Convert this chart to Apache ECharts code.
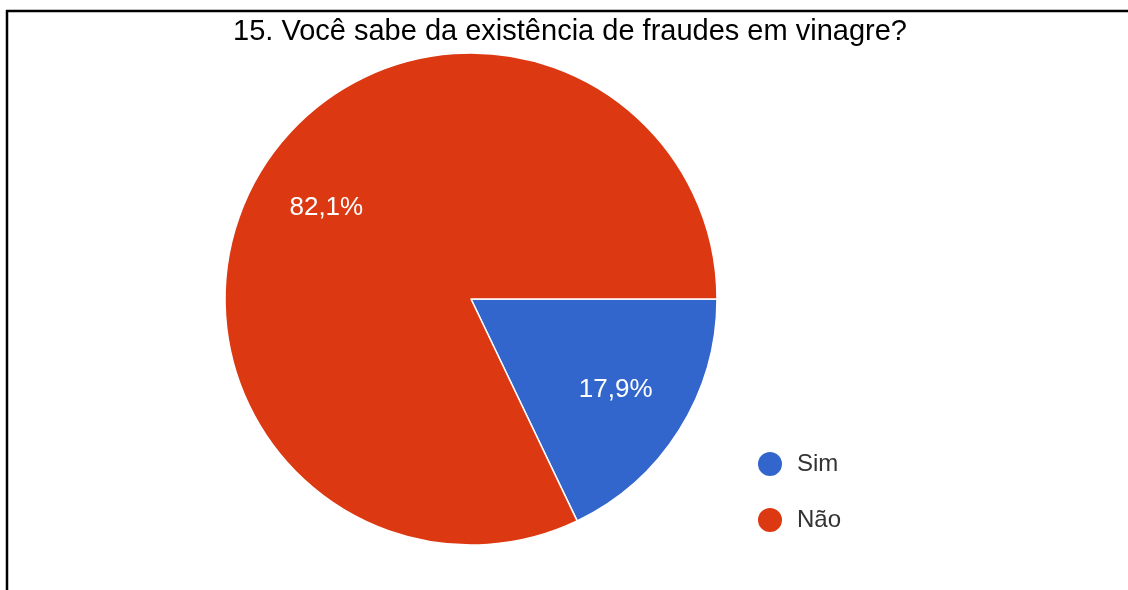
<!DOCTYPE html>
<html>
<head>
<meta charset="utf-8">
<title>15. Você sabe da existência de fraudes em vinagre?</title>
<script src="https://cdn.jsdelivr.net/npm/echarts@6/dist/echarts.min.js"></script>
<style>
  html, body { margin: 0; padding: 0; background: #fff; }
  #chart { width: 1128px; height: 590px; }
</style>
</head>
<body>
<div id="chart"></div>
<script>
// Survey answers and their shares (%)
const titleText = '15. Você sabe da existência de fraudes em vinagre?';
const answers = ['Sim', 'Não'];
const shares = [17.9, 82.1];
const colors = ['#3366cc', '#dc3912'];

const pieData = answers.map((name, i) => ({ name, value: shares[i] }));
const fmtPct = p => p.value.toFixed(1).replace('.', ',') + '%';

const chart = echarts.init(document.getElementById('chart'), null, { renderer: 'canvas' });

chart.setOption({
  backgroundColor: '#ffffff',
  animation: false,
  color: colors,
  title: {
    text: titleText,
    left: 565,
    textAlign: 'center',
    top: 12,
    textStyle: {
      fontFamily: 'Liberation Sans, Arial, sans-serif',
      fontSize: 29,
      fontWeight: 'normal',
      color: '#000'
    }
  },
  legend: {
    orient: 'vertical',
    left: 751,
    top: 445,
    icon: 'circle',
    itemWidth: 26,
    itemHeight: 26,
    itemGap: 28,
    data: answers,
    textStyle: {
      fontFamily: 'Liberation Sans, Arial, sans-serif',
      fontSize: 24,
      color: '#333',
      padding: [0, 0, 0, 9]
    }
  },
  graphic: [
    // frame: top and left rules
    { type: 'line', shape: { x1: 6, y1: 11, x2: 1128, y2: 11 }, style: { stroke: '#000', lineWidth: 2.5 } },
    { type: 'line', shape: { x1: 7, y1: 10, x2: 7, y2: 590 }, style: { stroke: '#000', lineWidth: 2.5 } }
  ],
  series: [
    {
      name: 'respostas',
      type: 'pie',
      center: [471, 299],
      radius: 246,
      startAngle: 0,
      clockwise: true,
      silent: true,
      label: { show: false },
      labelLine: { show: false },
      itemStyle: { borderColor: '#ffffff', borderWidth: 1.5 },
      data: pieData
    },
    {
      // percentage labels placed at about two thirds of the radius
      name: 'rótulos',
      type: 'pie',
      center: [471, 299],
      radius: [128, 208],
      startAngle: 0,
      clockwise: true,
      silent: true,
      itemStyle: { color: 'rgba(0,0,0,0)', borderWidth: 0 },
      label: {
        show: true,
        position: 'inside',
        formatter: fmtPct,
        fontFamily: 'Liberation Sans, Arial, sans-serif',
        fontSize: 26,
        color: '#ffffff'
      },
      labelLine: { show: false },
      data: pieData
    }
  ]
});
</script>
</body>
</html>
